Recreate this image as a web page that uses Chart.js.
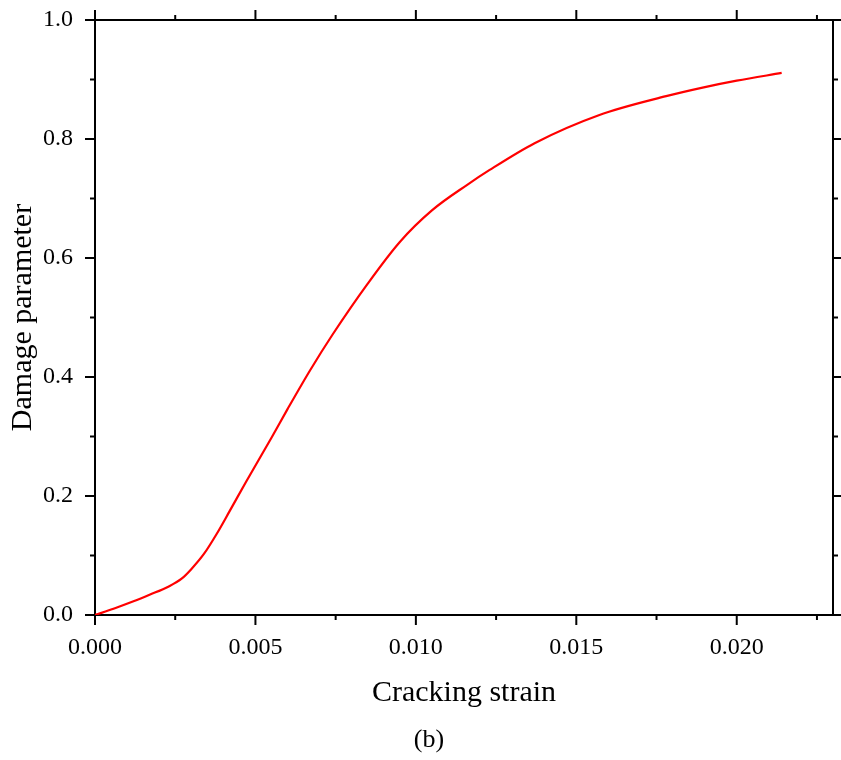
<!DOCTYPE html>
<html>
<head>
<meta charset="utf-8">
<script src="https://cdn.jsdelivr.net/npm/chart.js@4/dist/chart.umd.min.js"></script>
<style>
  body { margin: 0; background: #fff; }
  canvas { display: block; }
</style>
</head>
<body>
<canvas id="c" width="841" height="760"></canvas>
<script>
// --- data ---
const strain = [0, 0.0006, 0.0012, 0.0017, 0.0023, 0.0027, 0.003, 0.0034, 0.0038, 0.0042, 0.0047, 0.0055, 0.006,
  0.0067, 0.0074, 0.0085, 0.0095, 0.0105, 0.0116, 0.0123, 0.0137, 0.0157, 0.0178, 0.0189, 0.020, 0.0214];
const damage = [0, 0.011, 0.023, 0.034, 0.048, 0.061, 0.077, 0.103, 0.137, 0.175, 0.223, 0.298, 0.346,
  0.411, 0.471, 0.557, 0.627, 0.680, 0.723, 0.748, 0.793, 0.840, 0.872, 0.886, 0.898, 0.911];

// --- axis ticks ---
const xMajor = [0, 0.005, 0.010, 0.015, 0.020];
const xMinor = [0.0025, 0.0075, 0.0125, 0.0175, 0.0225];
const yMajor = [0, 0.2, 0.4, 0.6, 0.8, 1.0];
const yMinor = [0.1, 0.3, 0.5, 0.7, 0.9];
const xMax = 0.023;

const FONT = "'Liberation Serif', 'Times New Roman', serif";

const isMajor = (list, v) => list.some(m => Math.abs(m - v) < 1e-9);
const setTicks = (major, minor) => scale => {
    scale.ticks = major.concat(minor).sort((a, b) => a - b).map(v => ({ value: v }));
};
// keep label overflow from pushing the plot area around
const noPad = s => { s.paddingTop = 0; s.paddingBottom = 0; s.paddingLeft = 0; s.paddingRight = 0; };

// outward tick marks, long for majors, short for minors
const tickMarks = {
    id: 'tickMarks',
    afterDraw(chart) {
        const ctx = chart.ctx;
        ctx.save();
        ctx.strokeStyle = '#000';
        ctx.lineWidth = 2;
        for (const scale of Object.values(chart.scales)) {
            const horiz = scale.isHorizontal();
            const major = horiz ? xMajor : yMajor;
            scale.ticks.forEach(t => {
                const p = scale.getPixelForValue(t.value);
                const len = isMajor(major, t.value) ? 10 : 5;
                ctx.beginPath();
                if (scale.position === 'bottom') { ctx.moveTo(p, scale.top); ctx.lineTo(p, scale.top + len); }
                else if (scale.position === 'top') { ctx.moveTo(p, scale.bottom); ctx.lineTo(p, scale.bottom - len); }
                else if (scale.position === 'left') { ctx.moveTo(scale.right, p); ctx.lineTo(scale.right - len, p); }
                else { ctx.moveTo(scale.left, p); ctx.lineTo(scale.left + len, p); }
                ctx.stroke();
            });
        }
        // figure caption
        ctx.fillStyle = '#000';
        ctx.font = '26px ' + FONT;
        ctx.textAlign = 'center';
        ctx.textBaseline = 'alphabetic';
        ctx.fillText('(b)', 429, 747);
        ctx.restore();
    }
};

const frame = { display: true, color: '#000', width: 2 };
const noGrid = { display: true, drawOnChartArea: false, drawTicks: false };

new Chart(document.getElementById('c'), {
    type: 'scatter',
    data: {
        datasets: [{
            data: strain.map((x, i) => ({ x, y: damage[i] })),
            showLine: true,
            borderColor: '#ff0000',
            borderWidth: 2.2,
            pointRadius: 0,
            cubicInterpolationMode: 'monotone'
        }]
    },
    options: {
        responsive: false,
        animation: false,
        layout: { padding: { top: 20, right: 8, bottom: 0, left: 0 } },
        plugins: { legend: { display: false }, tooltip: { enabled: false } },
        scales: {
            x: {
                type: 'linear', position: 'bottom', min: 0, max: xMax,
                afterBuildTicks: setTicks(xMajor, xMinor),
                afterFit: s => { s.height = 145; noPad(s); },
                grid: noGrid, border: frame,
                ticks: {
                    padding: 18, color: '#000', maxRotation: 0, autoSkip: false,
                    font: { family: FONT, size: 24 },
                    callback: v => isMajor(xMajor, v) ? v.toFixed(3) : ''
                },
                title: {
                    display: true, text: 'Cracking strain', color: '#000',
                    font: { family: FONT, size: 30 }, padding: { top: 0, bottom: 49 }
                }
            },
            x2: {
                type: 'linear', position: 'top', min: 0, max: xMax,
                afterBuildTicks: setTicks(xMajor, xMinor),
                afterFit: s => { s.height = 0; noPad(s); },
                grid: noGrid, border: frame,
                ticks: { display: false }
            },
            y: {
                type: 'linear', position: 'left', min: 0, max: 1,
                afterBuildTicks: setTicks(yMajor, yMinor),
                afterFit: s => { s.width = 95; noPad(s); },
                grid: noGrid, border: frame,
                ticks: {
                    padding: 22, color: '#000', autoSkip: false,
                    font: { family: FONT, size: 24 },
                    callback: v => isMajor(yMajor, v) ? v.toFixed(1) : ''
                },
                title: {
                    display: true, text: 'Damage parameter', color: '#000',
                    font: { family: FONT, size: 30 }, padding: { top: 5, bottom: 0 }
                }
            },
            y2: {
                type: 'linear', position: 'right', min: 0, max: 1,
                afterBuildTicks: setTicks(yMajor, yMinor),
                afterFit: s => { s.width = 0; noPad(s); },
                grid: noGrid, border: frame,
                ticks: { display: false }
            }
        }
    },
    plugins: [tickMarks]
});
</script>
</body>
</html>
